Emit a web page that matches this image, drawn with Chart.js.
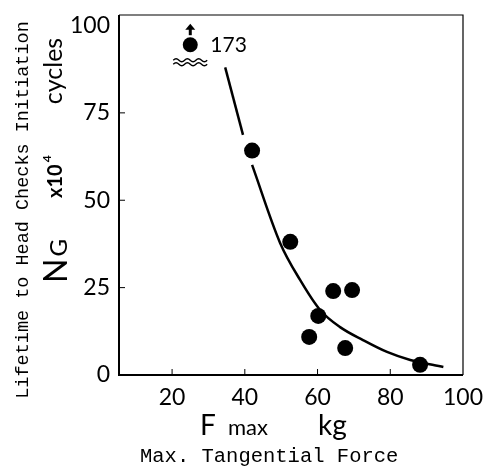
<!DOCTYPE html>
<html>
<head>
<meta charset="utf-8">
<script src="https://cdn.jsdelivr.net/npm/chart.js@4/dist/chart.umd.min.js"></script>
<style>
  html, body { margin: 0; padding: 0; background: #fff; }
  #wrap { width: 488px; height: 471px; }
</style>
</head>
<body>
<div id="wrap"><canvas id="fig"></canvas></div>
<script>
// measured points (F max kg, Ng x10^4 cycles)
const force_kg = [42, 52.5, 64.3, 69.5, 60.2, 57.7, 67.6, 88.2];
const life_cycles = [64.2, 38.1, 24.0, 24.3, 16.9, 10.9, 7.7, 2.9];

// off-scale point, plotted at the top with its real value written beside it
const offscale_force = 25;
const offscale_plot = 94.5;
const offscale_label = "173";

// fitted curve (broken around the 42 kg point)
const curve_upper_x = [34.6, 39.5];
const curve_upper_y = [88, 68.7];
const curve_lower_x = [42, 49.7, 55.2, 60.7, 66.2, 72.5, 79.1, 85.5, 94.6];
const curve_lower_y = [60.1, 37.8, 27.2, 18.6, 13.7, 10.0, 6.6, 4.3, 2.3];

const x_ticks = [20, 40, 60, 80, 100];
const y_ticks = [0, 25, 50, 75, 100];

const y_title = "Lifetime to Head Checks Initiation";
const x_title = "Max. Tangential Force";

function pairs(xs, ys) {
    return xs.map((x, i) => ({ x: x, y: ys[i] }));
}

const sans = 'Lato';
const mono = '"Liberation Mono"';

const decorations = {
    id: 'decorations',
    afterDraw(chart) {
        const ctx = chart.ctx;
        const a = chart.chartArea;
        const xs = chart.scales.x;
        const ys = chart.scales.y;
        ctx.save();
        ctx.fillStyle = '#000';
        ctx.strokeStyle = '#000';

        // frame
        ctx.lineWidth = 1.2;
        ctx.beginPath();
        ctx.moveTo(a.left, a.top);
        ctx.lineTo(a.right, a.top);
        ctx.lineTo(a.right, a.bottom);
        ctx.stroke();
        ctx.lineWidth = 2;
        ctx.beginPath();
        ctx.moveTo(a.left, a.top);
        ctx.lineTo(a.left, a.bottom);
        ctx.lineTo(a.right, a.bottom);
        ctx.stroke();

        // small inward ticks
        ctx.lineWidth = 1;
        x_ticks.slice(0, -1).forEach(v => {
            const px = xs.getPixelForValue(v);
            ctx.beginPath();
            ctx.moveTo(px, a.bottom);
            ctx.lineTo(px, a.bottom - 6);
            ctx.stroke();
        });
        y_ticks.slice(1, -1).forEach(v => {
            const py = ys.getPixelForValue(v);
            ctx.beginPath();
            ctx.moveTo(a.left, py);
            ctx.lineTo(a.left + 6, py);
            ctx.stroke();
        });

        // off-scale marker: arrow, break symbol and value
        const px = xs.getPixelForValue(offscale_force);
        const py = ys.getPixelForValue(offscale_plot);
        ctx.lineWidth = 3;
        ctx.beginPath();
        ctx.moveTo(px, py - 9.5);
        ctx.lineTo(px, py - 16);
        ctx.stroke();
        ctx.beginPath();
        ctx.moveTo(px, py - 21);
        ctx.lineTo(px - 5, py - 15);
        ctx.lineTo(px + 5, py - 15);
        ctx.closePath();
        ctx.fill();

        ctx.lineWidth = 1.4;
        [15.5, 19.5].forEach(dy => {
            ctx.beginPath();
            ctx.moveTo(px - 17, py + dy);
            for (let k = 0; k < 3; k++) {
                const x0 = px - 17 + k * 11.3;
                ctx.quadraticCurveTo(x0 + 2.8, py + dy - 3, x0 + 5.65, py + dy);
                ctx.quadraticCurveTo(x0 + 8.5, py + dy + 3, x0 + 11.3, py + dy);
            }
            ctx.stroke();
        });

        ctx.font = '21px ' + sans;
        ctx.textAlign = 'left';
        ctx.textBaseline = 'alphabetic';
        ctx.fillText(offscale_label, px + 20, py + 7);

        // outer y title
        ctx.save();
        ctx.translate(28, 210);
        ctx.rotate(-Math.PI / 2);
        ctx.textAlign = 'center';
        ctx.font = '18.5px ' + mono;
        ctx.fillText(y_title, 0, 0);
        ctx.restore();

        // inner y title: Ng x10^4 cycles
        ctx.save();
        ctx.translate(67, 283);
        ctx.rotate(-Math.PI / 2);
        ctx.textAlign = 'left';
        ctx.font = '32px ' + sans;
        ctx.fillText('N', 0, 0);
        const wN = ctx.measureText('N').width;
        ctx.font = '24px ' + sans;
        ctx.fillText('G', wN + 2, 0);
        ctx.restore();

        ctx.save();
        ctx.translate(62, 198);
        ctx.rotate(-Math.PI / 2);
        ctx.textAlign = 'left';
        ctx.font = 'bold 20px ' + sans;
        ctx.fillText('x10', 0, 0);
        const w10 = ctx.measureText('x10').width;
        ctx.font = 'bold 12px ' + sans;
        ctx.fillText('4', w10 + 2, -11);
        ctx.restore();

        ctx.save();
        ctx.translate(62, 71);
        ctx.rotate(-Math.PI / 2);
        ctx.textAlign = 'center';
        ctx.font = '25px ' + sans;
        ctx.fillText('cycles', 0, 0);
        ctx.restore();

        // x titles
        ctx.textAlign = 'left';
        ctx.font = '28px ' + sans;
        ctx.fillText('F', 200, 435);
        ctx.fillText('kg', 318, 435);
        ctx.font = '22px ' + sans;
        ctx.fillText('max', 228, 435);
        ctx.font = '20.5px ' + mono;
        ctx.fillText(x_title, 140, 462);

        ctx.restore();
    }
};

const chart_element = document.getElementById("fig");

const chart = new Chart(chart_element, {
    type: 'scatter',
    data: {
        datasets: [
            {
                label: 'curve upper',
                data: pairs(curve_upper_x, curve_upper_y),
                showLine: true,
                borderColor: '#000',
                borderWidth: 2.5,
                pointRadius: 0
            },
            {
                label: 'curve lower',
                data: pairs(curve_lower_x, curve_lower_y),
                showLine: true,
                cubicInterpolationMode: 'monotone',
                borderColor: '#000',
                borderWidth: 2.5,
                pointRadius: 0
            },
            {
                label: 'measured',
                data: pairs(force_kg, life_cycles),
                backgroundColor: '#000',
                borderWidth: 0,
                pointRadius: 8
            },
            {
                label: 'off scale',
                data: [{ x: offscale_force, y: offscale_plot }],
                backgroundColor: '#000',
                borderWidth: 0,
                pointRadius: 7.5
            }
        ]
    },
    options: {
        responsive: true,
        maintainAspectRatio: false,
        animation: false,
        layout: { padding: { left: 0, top: 15, right: 25, bottom: 0 } },
        plugins: {
            legend: { display: false },
            tooltip: { enabled: false }
        },
        scales: {
            x: {
                type: 'linear',
                min: 5.4,
                max: 100,
                afterBuildTicks: (scale) => {
                    scale.ticks = x_ticks.map(v => ({ value: v }));
                },
                afterFit: (scale) => {
                    scale.height = 96;
                    scale.paddingLeft = 0;
                    scale.paddingRight = 0;
                },
                grid: { display: false, drawTicks: false },
                border: { display: false },
                ticks: {
                    color: '#000',
                    font: { family: sans, size: 23 },
                    padding: 9,
                    maxRotation: 0
                }
            },
            y: {
                type: 'linear',
                min: 0,
                max: 103,
                afterBuildTicks: (scale) => {
                    scale.ticks = y_ticks.map(v => ({ value: v }));
                },
                afterFit: (scale) => {
                    scale.width = 119;
                    scale.paddingTop = 0;
                    scale.paddingBottom = 0;
                },
                grid: { display: false, drawTicks: false },
                border: { display: false },
                ticks: {
                    color: '#000',
                    font: { family: sans, size: 23 },
                    padding: 9
                }
            }
        }
    },
    plugins: [decorations]
});
</script>
</body>
</html>
